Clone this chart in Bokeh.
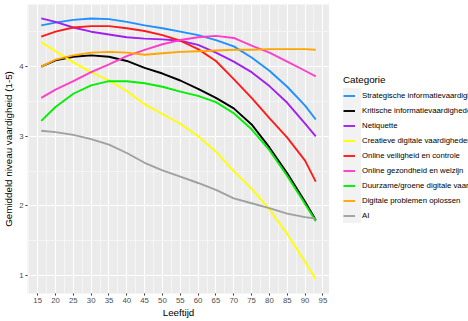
from bokeh.plotting import figure
from bokeh.layouts import row
from bokeh.models import Legend, LegendItem, FixedTicker
from bokeh.embed import file_html
from bokeh.resources import INLINE

ages = [16, 20, 25, 30, 35, 40, 45, 50, 55, 60, 65, 70, 75, 80, 85, 90, 93]

strategische = [4.59, 4.63, 4.67, 4.69, 4.68, 4.64, 4.59, 4.55, 4.50, 4.45, 4.38, 4.29, 4.13, 3.94, 3.71, 3.44, 3.24]
kritische = [4.00, 4.09, 4.14, 4.16, 4.14, 4.08, 3.98, 3.90, 3.80, 3.68, 3.55, 3.40, 3.17, 2.84, 2.47, 2.06, 1.80]
netiquette = [4.69, 4.64, 4.56, 4.50, 4.46, 4.42, 4.40, 4.39, 4.37, 4.31, 4.20, 4.07, 3.92, 3.72, 3.48, 3.18, 3.00]
creatieve = [4.35, 4.22, 4.06, 3.92, 3.80, 3.65, 3.46, 3.32, 3.18, 3.00, 2.78, 2.50, 2.25, 1.95, 1.60, 1.20, 0.95]
veiligheid = [4.43, 4.50, 4.56, 4.58, 4.58, 4.55, 4.51, 4.45, 4.37, 4.25, 4.08, 3.82, 3.55, 3.26, 2.98, 2.65, 2.35]
gezondheid = [3.55, 3.67, 3.79, 3.92, 4.03, 4.15, 4.24, 4.32, 4.38, 4.42, 4.44, 4.41, 4.30, 4.20, 4.07, 3.94, 3.86]
duurzame = [3.22, 3.42, 3.61, 3.73, 3.79, 3.79, 3.76, 3.71, 3.64, 3.58, 3.49, 3.33, 3.10, 2.80, 2.43, 2.03, 1.78]
problemen = [4.00, 4.10, 4.16, 4.20, 4.21, 4.20, 4.17, 4.19, 4.21, 4.22, 4.23, 4.24, 4.24, 4.25, 4.25, 4.25, 4.24]
ai = [3.08, 3.06, 3.02, 2.96, 2.88, 2.76, 2.62, 2.51, 2.42, 2.33, 2.23, 2.11, 2.04, 1.97, 1.89, 1.84, 1.82]

categories = [
    "Strategische informatievaardigheden",
    "Kritische informatievaardigheden",
    "Netiquette",
    "Creatieve digitale vaardigheden",
    "Online veiligheid en controle",
    "Online gezondheid en welzijn",
    "Duurzame/groene digitale vaardigheden",
    "Digitale problemen oplossen",
    "AI",
]
series = [strategische, kritische, netiquette, creatieve, veiligheid,
          gezondheid, duurzame, problemen, ai]
colors = ["#1E90FF", "#000000", "#A020F0", "#FFFF00", "#FF1A1A",
          "#FF3EC8", "#00F000", "#FFA500", "#A0A0A0"]

x_ticks = list(range(15, 100, 5))
x_minor = [t + 2.5 for t in range(10, 100, 5)]
y_ticks = [1, 2, 3, 4]
y_minor = [0.5, 1.5, 2.5, 3.5, 4.5]

FONT = "Liberation Sans"

p = figure(width=329, height=321, output_backend="svg", toolbar_location=None,
           x_range=(12.15, 96.85), y_range=(0.745, 4.89),
           min_border_left=25, min_border_right=0, min_border_top=4,
           min_border_bottom=28)
p.background_fill_color = "#EBEBEB"
p.border_fill_color = "white"
p.outline_line_color = None

p.xaxis.ticker = FixedTicker(ticks=x_ticks, minor_ticks=x_minor)
p.yaxis.ticker = FixedTicker(ticks=y_ticks, minor_ticks=y_minor)

for ax in (p.xaxis[0], p.yaxis[0]):
    ax.axis_line_color = None
    ax.major_tick_line_color = "#333333"
    ax.major_tick_out = 2
    ax.major_tick_in = 0
    ax.minor_tick_out = 0
    ax.minor_tick_in = 0
    ax.major_label_text_font = FONT
    ax.major_label_text_font_size = "7.8px"
    ax.major_label_text_color = "#4D4D4D"
    ax.axis_label_text_font = FONT
    ax.axis_label_text_font_size = "9.8px"
    ax.axis_label_text_font_style = "normal"
    ax.axis_label_text_color = "#000000"
    ax.major_label_standoff = 2

p.xaxis.axis_label = "Leeftijd"
p.yaxis.axis_label = "Gemiddeld niveau vaardigheid (1-5)"
p.xaxis.axis_label_standoff = 1
p.yaxis.axis_label_standoff = 2

p.grid.grid_line_color = "white"
p.grid.grid_line_width = 1.1
p.grid.minor_grid_line_color = "white"
p.grid.minor_grid_line_width = 0.5

for vals, col in zip(series, colors):
    p.line(ages, vals, line_color=col, line_width=1.9)

# legend panel: a separate figure (its frame aligns with the main frame)
lg = figure(width=139, height=321, output_backend="svg", toolbar_location=None,
            x_axis_type=None, y_axis_type=None, x_range=(0, 1), y_range=(0, 1),
            min_border_left=0, min_border_right=0, min_border_top=4,
            min_border_bottom=28)
lg.outline_line_color = None
lg.grid.visible = False
lg.background_fill_color = "white"
lg.border_fill_color = "white"

# key renderers: same data, outside this panel's ranges so only the legend shows
key_renderers = [lg.line(ages, vals, line_color=col, line_width=1.9)
                 for vals, col in zip(series, colors)]
hidden = lg.line(ages, ai, line_alpha=0)

bg_legend = Legend(items=[LegendItem(label="", renderers=[hidden])],
                   location=(14, 70), glyph_width=18, glyph_height=135,
                   label_width=0, label_height=0, label_standoff=0,
                   padding=0, spacing=0, margin=0,
                   background_fill_color="#F2F2F2", background_fill_alpha=1,
                   border_line_color=None, label_text_font_size="7.5px")
lg.add_layout(bg_legend, "center")

items = [LegendItem(label=c, renderers=[r]) for c, r in zip(categories, key_renderers)]
legend = Legend(items=items, location=(14, 70), glyph_width=12, glyph_height=15,
                label_width=0, label_height=10, label_standoff=7,
                padding=0, spacing=0, margin=0,
                background_fill_alpha=0, border_line_color=None,
                label_text_font=FONT, label_text_font_size="7.8px",
                label_text_color="#000000",
                title="Categorie", title_text_font=FONT,
                title_text_font_size="9.8px", title_text_font_style="normal",
                title_text_color="#000000", title_standoff=3)
lg.add_layout(legend, "center")

layout = row(p, lg, spacing=0)
open("out.html", "w").write(file_html(layout, INLINE))
